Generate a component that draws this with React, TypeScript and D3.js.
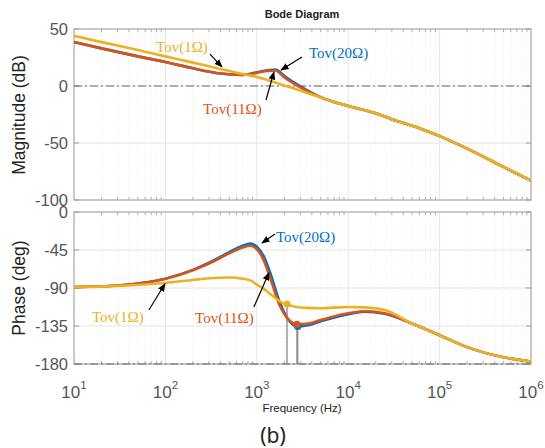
import * as d3 from 'd3';
import React from 'react';

// frequencies (Hz) for magnitude samples
const magFreq = [10, 20, 50, 100, 200, 400, 700, 1000, 1300, 1600, 2000, 3000, 4000, 5000, 7000, 10000, 20000, 35000, 60000, 100000, 200000, 500000, 1000000];
const mag1 = [44, 38.5, 31.5, 26, 20.5, 15, 10.5, 8, 5.3, 3, 0.5, -4, -7.5, -10, -14, -17.5, -24, -31, -37, -44, -55, -71, -83];
const mag11 = [38.5, 33, 26, 21, 15.5, 11, 9.8, 11.5, 13.3, 13.6, 7.5, -1.2, -6.5, -10, -14, -17.5, -24, -31, -37, -44, -55, -71, -83];
const mag20 = [38.5, 33, 26, 21, 15.5, 11, 9.8, 12, 13.8, 14.4, 8.8, -0.3, -6, -9.8, -14, -17.5, -24, -31, -37, -44, -55, -71, -83];

// frequencies (Hz) for phase samples
const phFreq = [10, 30, 100, 200, 300, 500, 700, 850, 1000, 1200, 1400, 1800, 2200, 2750, 3500, 5000, 10000, 15000, 25000, 50000, 100000, 200000, 500000, 1000000];
const ph1 = [-89, -87.5, -84, -80.5, -78.5, -77.5, -79, -81, -86, -91, -97, -106, -110, -112.5, -113.5, -114, -112.5, -113, -116, -132, -146, -160, -172, -177];
const ph11 = [-89, -87, -79, -69, -61, -49, -42, -40, -44, -58, -78, -112, -127, -133, -132.5, -128, -120, -117.5, -120, -132, -146, -160, -172, -177];
const ph20 = [-89, -87, -79, -68.5, -60, -47.5, -40, -37.5, -41, -53, -72, -108, -127, -135.5, -134.5, -129.5, -121, -118, -120.5, -132, -146, -160, -172, -177];

// marked points (Hz, deg)
const markFreq = [2140, 2750, 2800];
const markPhase = [-109, -133, -135.5];

const decades = [1, 2, 3, 4, 5, 6];
const magTicks = [50, 0, -50, -100];
const phTicks = [0, -45, -90, -135, -180];

const C1 = '#EDB120';
const C11 = '#D95319';
const C20 = '#0072BD';

const x = d3.scaleLog().domain([10, 1e6]).range([74, 531]);
const yMag = d3.scaleLinear().domain([-100, 50]).range([200, 29]);
const yPh = d3.scaleLinear().domain([-180, 0]).range([364, 212]);

const minorFreqs: number[] = [];
for (let e = 1; e < 6; e++) for (let k = 2; k < 10; k++) minorFreqs.push(k * Math.pow(10, e));

function Arrow({ x1, y1, x2, y2 }: any) {
  return <line x1={x1} y1={y1} x2={x2} y2={y2} stroke="#000" strokeWidth={1.2} markerEnd="url(#ah)" />;
}

function Panel({ y, ticks }: any) {
  const [y0, y1] = y.range();
  return (
    <g>
      {minorFreqs.map((f) => (
        <g key={f}>
          <line x1={x(f)} x2={x(f)} y1={y1} y2={y0} stroke="#e6e6e6" strokeWidth={0.8} strokeDasharray="1,2" />
          <line x1={x(f)} x2={x(f)} y1={y1} y2={y1 + 3} stroke="#999" strokeWidth={0.8} />
          <line x1={x(f)} x2={x(f)} y1={y0} y2={y0 - 3} stroke="#999" strokeWidth={0.8} />
        </g>
      ))}
      {decades.map((e) => (
        <line key={e} x1={x(Math.pow(10, e))} x2={x(Math.pow(10, e))} y1={y1} y2={y0} stroke="#e2e2e2" strokeWidth={0.9} />
      ))}
      {ticks.map((t: number) => (
        <g key={t}>
          <line x1={74} x2={531} y1={y(t)} y2={y(t)} stroke="#e2e2e2" strokeWidth={0.9} />
          <line x1={74} x2={79} y1={y(t)} y2={y(t)} stroke="#999" />
          <line x1={526} x2={531} y1={y(t)} y2={y(t)} stroke="#999" />
          <text x={68} y={y(t) + 6} textAnchor="end" fontSize={16.5} fill="#555" fontFamily="Liberation Sans, Arial, sans-serif">{t}</text>
        </g>
      ))}
      <rect x={74} y={y1} width={457} height={y0 - y1} fill="none" stroke="#a0a0a0" strokeWidth={1} />
    </g>
  );
}

export default function App() {
  const lineMag = (vals: number[]) =>
    d3.line<number>().x((_, i) => x(magFreq[i])).y((v) => yMag(v)).curve(d3.curveMonotoneX)(vals) || '';
  const linePh = (vals: number[]) =>
    d3.line<number>().x((_, i) => x(phFreq[i])).y((v) => yPh(v)).curve(d3.curveMonotoneX)(vals) || '';
  const serif = 'Liberation Serif, Times New Roman, serif';
  const sans = 'Liberation Sans, Arial, sans-serif';
  const markColors = [C1, C11, C20];

  return (
    <svg width={545} height={448} style={{ position: 'absolute', left: 0, top: 0, background: '#fff' }}>
      <defs>
        <marker id="ah" viewBox="0 0 10 10" refX="9" refY="5" markerWidth="7" markerHeight="7" orient="auto">
          <path d="M0,1 L10,5 L0,9 z" fill="#000" />
        </marker>
        <clipPath id="cm"><rect x={74} y={29} width={457} height={171} /></clipPath>
        <clipPath id="cp"><rect x={74} y={212} width={457} height={152} /></clipPath>
      </defs>
      <rect width={545} height={448} fill="#fff" />
      <text x={302} y={18} textAnchor="middle" fontSize={11} fontWeight="bold" fontFamily={sans} fill="#222">Bode Diagram</text>

      <Panel y={yMag} ticks={magTicks} />
      <line x1={74} x2={531} y1={yMag(0)} y2={yMag(0)} stroke="#666" strokeWidth={1} strokeDasharray="8,3,2,3" />
      <g clipPath="url(#cm)" fill="none" strokeWidth={2.6} strokeLinejoin="round">
        <path d={lineMag(mag20)} stroke={C20} />
        <path d={lineMag(mag11)} stroke={C11} />
        <path d={lineMag(mag1)} stroke={C1} />
      </g>

      <Panel y={yPh} ticks={phTicks} />
      <line x1={74} x2={531} y1={yPh(-180)} y2={yPh(-180)} stroke="#666" strokeWidth={1} strokeDasharray="8,3,2,3" />
      {markFreq.map((f, i) => (
        <line key={'v' + i} x1={x(f)} x2={x(f)} y1={yPh(markPhase[i])} y2={yPh(-180)} stroke="#888" strokeWidth={1.3} />
      ))}
      <g clipPath="url(#cp)" fill="none" strokeWidth={2.6} strokeLinejoin="round">
        <path d={linePh(ph20)} stroke={C20} />
        <path d={linePh(ph11)} stroke={C11} />
        <path d={linePh(ph1)} stroke={C1} />
      </g>
      {[2, 1, 0].map((i) => (
        <circle key={'m' + i} cx={x(markFreq[i])} cy={yPh(markPhase[i])} r={3.6} fill={markColors[i]} />
      ))}

      {/* annotations, magnitude */}
      <text x={x(79)} y={yMag(34) + 5} fontSize={15} fontFamily={serif} fill={C1}>Tov(1Ω)</text>
      <Arrow x1={x(307)} y1={yMag(28)} x2={x(416)} y2={yMag(16.7)} />
      <text x={x(3720)} y={yMag(29) + 5} fontSize={15} fontFamily={serif} fill={C20}>Tov(20Ω)</text>
      <Arrow x1={x(3120)} y1={yMag(25.4)} x2={x(1840)} y2={yMag(14)} />
      <text x={x(258)} y={yMag(-20) + 5} fontSize={15} fontFamily={serif} fill={C11}>Tov(11Ω)</text>
      <Arrow x1={x(1260)} y1={yMag(-12.3)} x2={x(1540)} y2={yMag(12.3)} />

      {/* annotations, phase */}
      <text x={x(1620)} y={yPh(-29.6) + 5} fontSize={15} fontFamily={serif} fill={C20}>Tov(20Ω)</text>
      <Arrow x1={x(1580)} y1={yPh(-26)} x2={x(1140)} y2={yPh(-36.7)} />
      <text x={x(211)} y={yPh(-125.5) + 5} fontSize={15} fontFamily={serif} fill={C11}>Tov(11Ω)</text>
      <Arrow x1={x(930)} y1={yPh(-112.5)} x2={x(1360)} y2={yPh(-72)} />
      <text x={x(15.7)} y={yPh(-124) + 5} fontSize={15} fontFamily={serif} fill={C1}>Tov(1Ω)</text>
      <Arrow x1={x(66)} y1={yPh(-116)} x2={x(99)} y2={yPh(-85)} />

      {/* x tick labels */}
      {decades.map((e) => (
        <text key={e} x={x(Math.pow(10, e))} y={398} textAnchor="middle" fontSize={17} fill="#555" fontFamily={sans}>
          10<tspan dy={-9} fontSize={11.5}>{e}</tspan>
        </text>
      ))}
      <text x={302} y={412} textAnchor="middle" fontSize={11.5} fill="#222" fontFamily={sans}>Frequency  (Hz)</text>

      <text transform="translate(25,115) rotate(-90)" textAnchor="middle" fontSize={17.5} fill="#222" fontFamily={sans}>Magnitude (dB)</text>
      <text transform="translate(25,288) rotate(-90)" textAnchor="middle" fontSize={17.5} fill="#222" fontFamily={sans}>Phase (deg)</text>

      <text x={273} y={443} textAnchor="middle" fontSize={21} fill="#222" fontFamily="Noto Sans, sans-serif">(b)</text>
    </svg>
  );
}
